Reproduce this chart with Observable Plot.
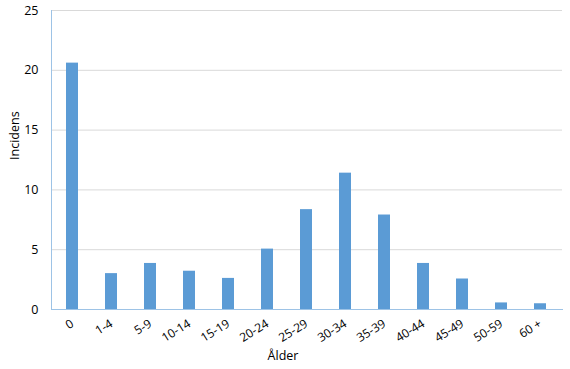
<!DOCTYPE html>
<html><head><meta charset="utf-8">
<script src="https://cdn.jsdelivr.net/npm/d3@7"></script>
<script src="https://cdn.jsdelivr.net/npm/@observablehq/plot@0.6"></script>
<style>body{margin:0;background:#fff}</style>
</head><body><div id="chart"></div>
<script>
const categories = ["0","1-4","5-9","10-14","15-19","20-24","25-29","30-34","35-39","40-44","45-49","50-59","60 +"];
const values = [20.6, 3.0, 3.85, 3.2, 2.6, 5.05, 8.35, 11.4, 7.9, 3.85, 2.55, 0.55, 0.48];
const yTicks = [0, 5, 10, 15, 20, 25];
const data = categories.map((c, i) => ({cat: c, v: values[i]}));

const chart = Plot.plot({
  width: 570, height: 369,
  marginLeft: 51, marginRight: 8, marginTop: 10, marginBottom: 60,
  style: {fontFamily: "'Open Sans', sans-serif", fontSize: "12px", color: "#000", background: "#fff"},
  x: {domain: categories, paddingInner: 0.69, paddingOuter: 0.345, align: 0.5},
  y: {domain: [0, 25], ticks: yTicks},
  marks: [
    Plot.gridY(yTicks, {stroke: "#d9d9d9", strokeOpacity: 1}),
    Plot.barY(data, {x: "cat", y: "v", fill: "#5B9BD5"}),
    Plot.frame({anchor: "left", stroke: "#9DC3E6"}),
    Plot.frame({anchor: "bottom", stroke: "#9DC3E6"}),
    Plot.axisY(yTicks, {tickSize: 0, tickPadding: 13, label: null, fontSize: 12.5, fill: "#000"}),
    Plot.axisX({tickSize: 0, tickRotate: -32, tickPadding: 13, dx: 0, label: null, fontSize: 12, fill: "#000"}),
    Plot.text(["Ålder"], {frameAnchor: "bottom", dy: 50, dx: -24, fontSize: 12.5, fill: "#000"}),
    Plot.text(["Incidens"], {frameAnchor: "left", dx: -37, rotate: -90, fontSize: 12.5, fill: "#000"})
  ]
});
document.getElementById("chart").appendChild(chart);
</script>
</body></html>
